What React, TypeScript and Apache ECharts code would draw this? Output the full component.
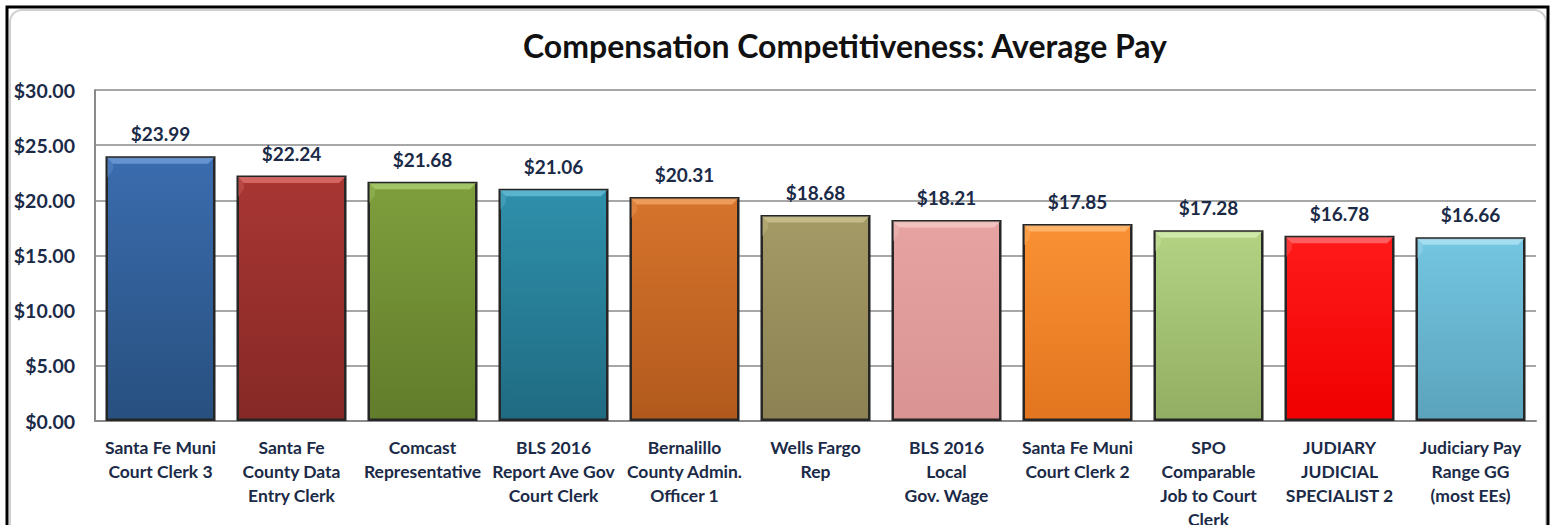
import React, { useEffect, useRef } from "react";
import * as echarts from "echarts";

const categories: string[] = [
  "Santa Fe Muni\nCourt Clerk 3",
  "Santa Fe\nCounty Data\nEntry Clerk",
  "Comcast\nRepresentative",
  "BLS 2016\nReport Ave Gov\nCourt Clerk",
  "Bernalillo\nCounty Admin.\nOfficer 1",
  "Wells Fargo\nRep",
  "BLS 2016\nLocal\nGov. Wage",
  "Santa Fe Muni\nCourt Clerk 2",
  "SPO\nComparable\nJob to Court\nClerk",
  "JUDIARY\nJUDICIAL\nSPECIALIST 2",
  "Judiciary Pay\nRange GG\n(most EEs)",
];

const averagePay: number[] = [23.99, 22.24, 21.68, 21.06, 20.31, 18.68, 18.21, 17.85, 17.28, 16.78, 16.66];

const topColors: string[] = ["#3b6cae", "#a83633", "#7f9f3d", "#2f90ab", "#d6742c", "#a39a66", "#e6a3a2", "#fa9134", "#b3d383", "#ff1a1a", "#74c6e1"];
const bottomColors: string[] = ["#27507f", "#862926", "#617c2b", "#1f6b82", "#b1591d", "#8b8152", "#d99393", "#e2751f", "#92ae62", "#f00000", "#5ba3bd"];
const bevelColors: string[] = ["#6a97d4", "#d96a66", "#a6c96a", "#60b8d0", "#f0a060", "#c8bf8c", "#f3c5c4", "#ffb870", "#d2ecac", "#ff6666", "#a8e0f2"];

const yTicks = { min: 0, max: 30, interval: 5 };

const FONT = "Lato, 'Noto Sans', sans-serif";
const LABEL_COLOR = "#1b2a47";

export default function App() {
  const ref = useRef<HTMLDivElement>(null);

  useEffect(() => {
    if (!ref.current) return;
    const chart = echarts.init(ref.current, undefined, { renderer: "svg" });

    const barData = averagePay.map((v, i) => ({
      value: v,
      itemStyle: {
        color: new echarts.graphic.LinearGradient(0, 0, 0, 1, [
          { offset: 0, color: topColors[i] },
          { offset: 1, color: bottomColors[i] },
        ]),
      },
    }));

    const option: any = {
      animation: false,
      backgroundColor: "#ffffff",
      title: {
        text: "Compensation Competitiveness: Average Pay",
        left: 840,
        top: 24,
        textAlign: "center",
        textStyle: { fontFamily: FONT, fontWeight: "bold", fontSize: 32, color: "#111111" },
      },
      graphic: [
        { type: "rect", shape: { x: 10, y: 10, width: 1536, height: 530, r: 12 }, style: { fill: "none", stroke: "#d0d0d0", lineWidth: 2 }, silent: true, z: -1 },
        { type: "rect", shape: { x: 7, y: 7, width: 1541, height: 530 }, style: { fill: "none", stroke: "#000000", lineWidth: 3 }, silent: true, z: 10 },
      ],
      grid: { left: 95, right: 17, top: 90, bottom: 104, containLabel: false, outerBoundsMode: "none" },
      xAxis: {
        type: "category",
        data: categories,
        axisLine: { show: true, lineStyle: { color: "#8a8a8a", width: 2 } },
        axisTick: { show: false },
        axisLabel: {
          interval: 0,
          fontFamily: FONT,
          fontWeight: "bold",
          fontSize: 17.5,
          lineHeight: 24,
          color: LABEL_COLOR,
          margin: 14,
        },
      },
      yAxis: {
        type: "value",
        min: yTicks.min,
        max: yTicks.max,
        interval: yTicks.interval,
        axisLine: { show: true, lineStyle: { color: "#8a8a8a", width: 2 } },
        axisTick: { show: false },
        splitLine: { show: true, lineStyle: { color: "#8a8a8a", width: 1.5 } },
        axisLabel: {
          formatter: (v: number) => "$" + v.toFixed(2),
          fontFamily: FONT,
          fontWeight: "bold",
          fontSize: 19.5,
          color: LABEL_COLOR,
          margin: 20,
        },
      },
      series: [
        {
          type: "bar",
          data: barData,
          barCategoryGap: "16%",
          itemStyle: { borderColor: "#262626", borderWidth: 2.5 },
          label: {
            show: true,
            position: "top",
            distance: 13,
            formatter: (p: any) => "$" + Number(p.value).toFixed(2),
            fontFamily: FONT,
            fontWeight: "bold",
            fontSize: 19,
            color: LABEL_COLOR,
          },
          z: 2,
        },
        {
          type: "custom",
          data: averagePay.map((v, i) => [i, v]),
          z: 3,
          silent: true,
          renderItem: (params: any, api: any) => {
            const i = api.value(0);
            const v = api.value(1);
            const top = api.coord([i, v]);
            const band = api.size([1, 0])[0];
            const w = band * 0.84;
            const x0 = top[0] - w / 2 + 1.5;
            const x1 = top[0] + w / 2 - 1.5;
            const y0 = top[1] + 1.5;
            const b = 6;
            return {
              type: "group",
              children: [
                {
                  type: "polygon",
                  shape: { points: [[x0, y0], [x1, y0], [x1 - b, y0 + b], [x0 + b, y0 + b]] },
                  style: { fill: bevelColors[params.dataIndex], opacity: 0.9 },
                },
                {
                  type: "polygon",
                  shape: { points: [[x0, y0], [x0 + b, y0 + b], [x0 + b, y0 + b + 6], [x0, y0 + b + 14]] },
                  style: { fill: bevelColors[params.dataIndex], opacity: 0.35 },
                },
              ],
            };
          },
        },
      ],
    };

    chart.setOption(option);
    return () => chart.dispose();
  }, []);

  return (
    <div
      ref={ref}
      style={{ position: "absolute", left: 0, top: 0, width: 1553, height: 525 }}
    />
  );
}
